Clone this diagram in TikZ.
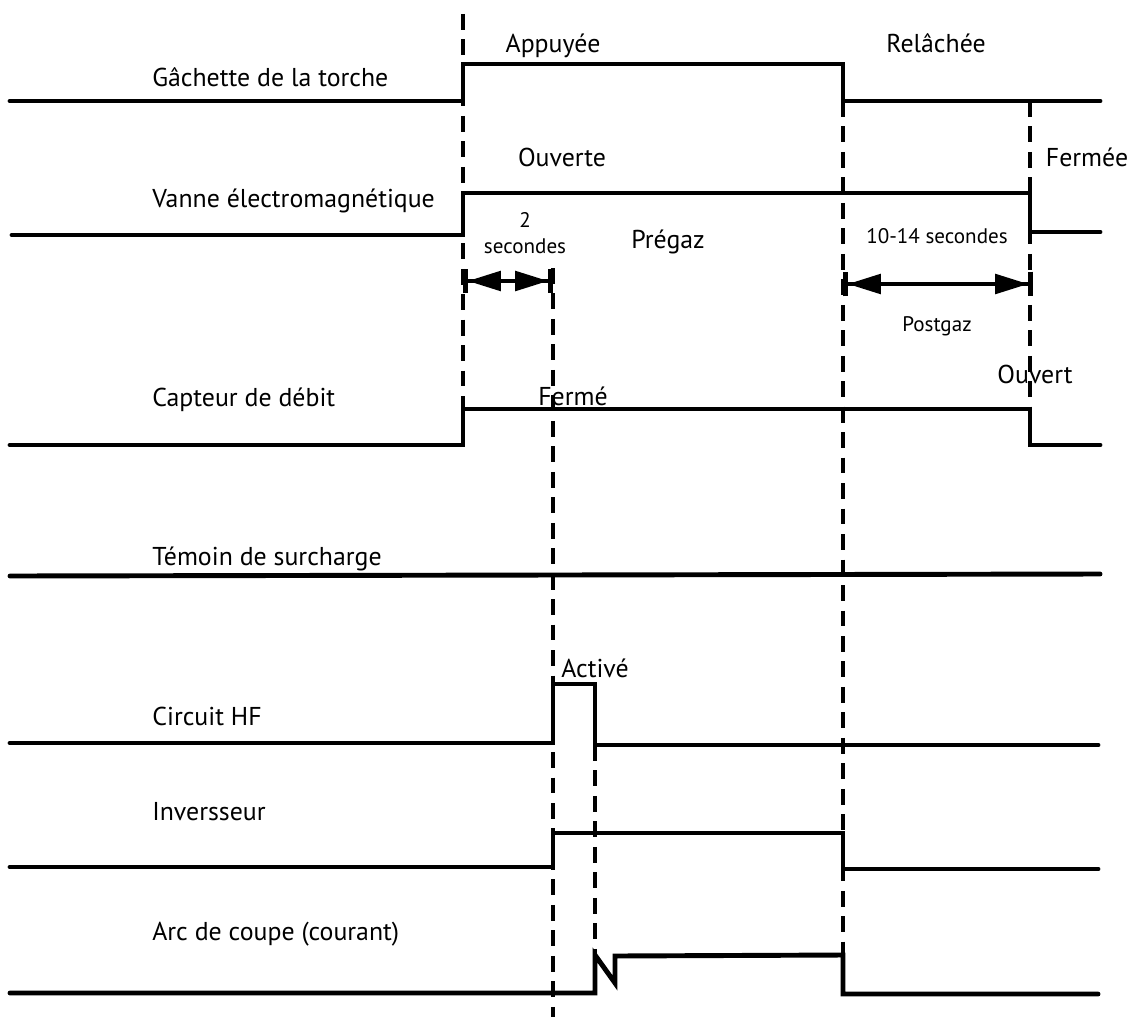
\documentclass[tikz,border=0pt]{standalone}
\usepackage{fontspec}
\setmainfont{PT Sans}
\usetikzlibrary{arrows.meta}

\begin{document}
\begin{tikzpicture}
  [x=0.02cm,y=-0.02cm,
   sig/.style={line width=2.8pt,line cap=round},
   guide/.style={line width=2.7pt,dash pattern=on 9pt off 5.5pt},
   dim/.style={line width=2.6pt,
     {Bar[width=14pt,sep=0pt]Triangle[length=19pt,width=11pt]}-{Triangle[length=19pt,width=11pt,sep=0pt]Bar[width=14pt]}},
   every node/.style={font=\fontsize{14.7}{16}\selectfont,inner sep=0pt},
   small/.style={font=\fontsize{12}{13}\selectfont}]
  \useasboundingbox (0,0) rectangle (1131,1017);

  % signal names
  \foreach \y/\txt [count=\i] in {87/Gâchette de la torche,207/Vanne électromagnétique,
      406/Capteur de débit,565/Témoin de surcharge,725/Circuit HF,820/Inversseur,
      940/Arc de coupe (courant)}
    \node[anchor=base west] (name\i) at (152,\y) {\txt};

  % waveforms
  \draw[sig] (10,101) -- (463,101) |- (843,64) |- (1100,101);
  \draw[sig] (12,235) -- (463,235) |- (1030,193) |- (1100,232);
  \draw[sig] (10,445) -- (463,445) |- (1030,409) |- (1100,445);
  \draw[sig] (10,576) -- (1100,574);
  \draw[sig] (10,743) -- (553,743) |- (595,684) |- (1098,745);
  \draw[sig] (10,867) -- (553,867) |- (843,833) |- (1098,869);
  \draw[sig] (10,993) -- (595,993) -- (595,955) -- (615,983) -- (615,956)
    -- (843,955) |- (1098,994);

  % time marks
  \draw[guide] (463,14) -- (463,445);
  \draw[guide] (553,268) -- (553,1017);
  \draw[guide] (595,745) -- (595,955);
  \draw[guide] (843,101) -- (843,955);
  \draw[guide] (1030,101) -- (1030,409);

  % states
  \node[anchor=base] (appuyee) at (553,53) {Appuyée};
  \node[anchor=base] (relachee) at (936,52) {Relâchée};
  \node[anchor=base] (ouverte) at (562,166) {Ouverte};
  \node[anchor=base] (fermee) at (1087,166) {Fermée};
  \node[anchor=base] (pregaz) at (668,248) {Prégaz};
  \node[anchor=base] (ferme) at (573,405) {Fermé};
  \node[anchor=base] (ouvert) at (1035,383) {Ouvert};
  \node[anchor=base] (active) at (595,677) {Activé};

  % durations
  \node[anchor=base,small] (deux) at (525,227) {2};
  \node[anchor=base,small] (sec) at (525,253) {secondes};
  \node[anchor=base,small] (duree) at (937,243) {10-14 secondes};
  \node[anchor=base,small] (postgaz) at (937,331) {Postgaz};
  \coordinate (pre0) at (463,281);
  \coordinate (pre1) at (553,281);
  \coordinate (post0) at (843,284);
  \coordinate (post1) at (1033,284);
  \draw[dim] (pre0) -- (pre1);
  \draw[dim] (post0) -- (post1);
\end{tikzpicture}
\end{document}
